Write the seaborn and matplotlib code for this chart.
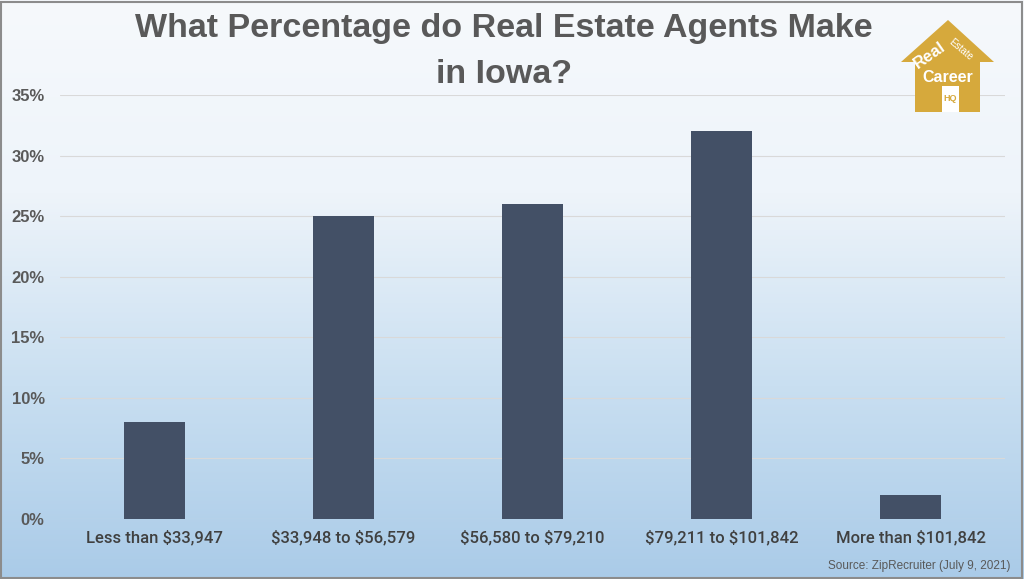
import numpy as np
import pandas as pd
import matplotlib
matplotlib.use("Agg")
import matplotlib.pyplot as plt
import seaborn as sns
from matplotlib.patches import Polygon, Rectangle
from matplotlib.colors import LinearSegmentedColormap

categories = ["Less than $33,947", "$33,948 to $56,579", "$56,580 to $79,210",
              "$79,211 to $101,842", "More than $101,842"]
values = [8, 25, 26, 32, 2]
yticks = [0, 5, 10, 15, 20, 25, 30, 35]
title = "What Percentage do Real Estate Agents Make\nin Iowa?"
source = "Source: ZipRecruiter (July 9, 2021)"

sns.set_theme(style="white")
plt.rcParams['font.family'] = ['Liberation Sans', 'DejaVu Sans']
plt.rcParams['text.parse_math'] = False

W, H = 1024, 579
fig = plt.figure(figsize=(W / 100, H / 100), dpi=100)

# gradient background
bg = fig.add_axes([0, 0, 1, 1], zorder=0)
cmap = LinearSegmentedColormap.from_list("bg", ["#f6f9fc", "#eef4fa", "#c9dff1", "#aacbe8"])
grad = np.linspace(0, 1, 256).reshape(-1, 1)
bg.imshow(grad, aspect="auto", cmap=cmap, extent=[0, 1, 0, 1], origin="upper")
bg.set_axis_off()
bg.add_patch(Rectangle((0.001, 0.002), 0.997, 0.995, transform=bg.transAxes,
                       fill=False, edgecolor="#8c8c8c", linewidth=1.5))

ax = fig.add_axes([60 / W, 60 / H, 945 / W, 424 / H], zorder=1)
ax.patch.set_alpha(0)
df = pd.DataFrame({"cat": categories, "val": values})
sns.barplot(data=df, x="cat", y="val", color="#435066", saturation=1, width=0.32, ax=ax,
            edgecolor="none", linewidth=0)
ax.set_xlim(-0.5, 4.5)
ax.set_ylim(0, 35)
ax.set_yticks(yticks)
ax.set_yticklabels([f"{v}%" for v in yticks], fontsize=12, fontweight="heavy", color="#595959")
ax.set_xticks(range(len(categories)))
ax.set_xticklabels(categories, fontsize=12, color="#404040", fontweight="medium",
                   family=['Roboto', 'Liberation Sans', 'DejaVu Sans'])
ax.tick_params(axis="y", pad=11, length=0)
ax.tick_params(axis="x", pad=8, length=0)
ax.set_xlabel("")
ax.set_ylabel("")
ax.yaxis.grid(True, color="#d9d9d9", linewidth=0.8)
ax.set_axisbelow(True)
for s in ax.spines.values():
    s.set_visible(False)

fig.text(0.492, 0.977, title, ha="center", va="top", fontsize=24.5, fontweight="heavy",
         color="#595959", linespacing=1.6)
fig.text(1010 / W, 1 - 566 / H, source, ha="right", va="center", fontsize=8.5, color="#595959")

# logo
gold = "#d6a93c"
def P(x, y):
    return (x / W, 1 - y / H)
house = Polygon([P(948, 20), P(994, 62), P(980, 62), P(980, 112), P(915, 112),
                 P(915, 62), P(901, 62)], closed=True, transform=fig.transFigure,
                facecolor=gold, edgecolor="none", zorder=5)
fig.patches.append(house)
door = Polygon([P(942, 86), P(959, 86), P(959, 112), P(942, 112)], closed=True,
               transform=fig.transFigure, facecolor="white", edgecolor="none", zorder=6)
fig.patches.append(door)
fig.text(930 / W, 1 - 55 / H, "Real", ha="center", va="center", fontsize=12, fontweight="bold",
         color="white", rotation=35, zorder=7)
fig.text(961 / W, 1 - 50 / H, "Estate", ha="center", va="center", fontsize=7,
         color="white", rotation=-40, zorder=7)
fig.text(948 / W, 1 - 77 / H, "Career", ha="center", va="center", fontsize=11.5, fontweight="bold",
         color="white", zorder=7)
fig.text(950.5 / W, 1 - 99 / H, "HQ", ha="center", va="center", fontsize=6.5, fontweight="bold",
         color=gold, zorder=7)

fig.savefig("out.png", dpi=100)
